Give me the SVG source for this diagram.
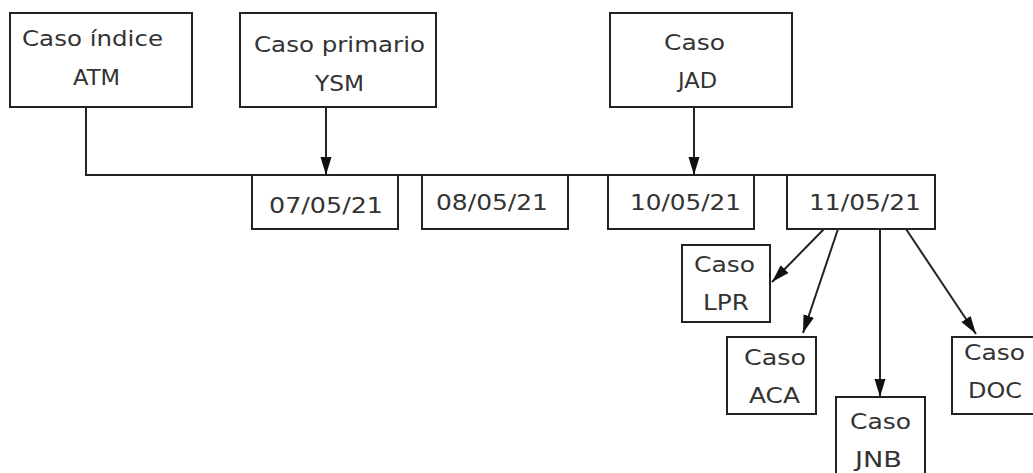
<svg xmlns="http://www.w3.org/2000/svg" width="1033" height="473" viewBox="0 0 1033 473">
<style>
.b{fill:#fff;stroke:#222;stroke-width:2}
.t{font-family:"DejaVu Sans",Verdana,sans-serif;font-size:21px;fill:#333}
.c{fill:none;stroke:#222;stroke-width:2}
</style>
<defs>
<marker id="a" viewBox="0 0 18 12" refX="18" refY="6" markerWidth="18" markerHeight="12" markerUnits="userSpaceOnUse" orient="auto">
<path d="M0,0.5 L18,6 L0,11.5 z" fill="#111"/>
</marker>
</defs>
<rect width="1033" height="473" fill="#fff"/>
<g id="connectors">
<path class="c" d="M86,107 V175 H935"/>
<line class="c" x1="326" y1="107" x2="326" y2="175" marker-end="url(#a)"/>
<line class="c" x1="694" y1="107" x2="694" y2="175" marker-end="url(#a)"/>
<line class="c" x1="824" y1="229" x2="772" y2="282" marker-end="url(#a)"/>
<line class="c" x1="838" y1="229" x2="803" y2="333" marker-end="url(#a)"/>
<line class="c" x1="880" y1="229" x2="880" y2="397" marker-end="url(#a)"/>
<line class="c" x1="906" y1="229" x2="976" y2="334" marker-end="url(#a)"/>
</g>
<g id="atm">
<rect class="b" x="10" y="13" width="182" height="94"/>
<text class="t" x="22" y="46" textLength="141" lengthAdjust="spacingAndGlyphs">Caso índice</text>
<text class="t" x="73" y="85" textLength="47" lengthAdjust="spacingAndGlyphs">ATM</text>
</g>
<g id="ysm">
<rect class="b" x="240" y="13" width="196" height="94"/>
<text class="t" x="254" y="52" textLength="171" lengthAdjust="spacingAndGlyphs">Caso primario</text>
<text class="t" x="315" y="91" textLength="49" lengthAdjust="spacingAndGlyphs">YSM</text>
</g>
<g id="jad">
<rect class="b" x="610" y="13" width="182" height="94"/>
<text class="t" x="664" y="50" textLength="61" lengthAdjust="spacingAndGlyphs">Caso</text>
<text class="t" x="678" y="88" textLength="39" lengthAdjust="spacingAndGlyphs">JAD</text>
</g>
<g id="d0705">
<rect class="b" x="252" y="175" width="146" height="54"/>
<text class="t" x="269" y="213" textLength="114" lengthAdjust="spacingAndGlyphs">07/05/21</text>
</g>
<g id="d0805">
<rect class="b" x="422" y="175" width="146" height="54"/>
<text class="t" x="436" y="210" textLength="112" lengthAdjust="spacingAndGlyphs">08/05/21</text>
</g>
<g id="d1005">
<rect class="b" x="608" y="175" width="146" height="54"/>
<text class="t" x="630" y="210" textLength="111" lengthAdjust="spacingAndGlyphs">10/05/21</text>
</g>
<g id="d1105">
<rect class="b" x="787" y="175" width="148" height="54"/>
<text class="t" x="809" y="210" textLength="112" lengthAdjust="spacingAndGlyphs">11/05/21</text>
</g>
<g id="lpr">
<rect class="b" x="682" y="245" width="88" height="77"/>
<text class="t" x="694" y="272" textLength="61" lengthAdjust="spacingAndGlyphs">Caso</text>
<text class="t" x="703" y="310" textLength="46" lengthAdjust="spacingAndGlyphs">LPR</text>
</g>
<g id="aca">
<rect class="b" x="727" y="337" width="89" height="77"/>
<text class="t" x="744" y="365" textLength="62" lengthAdjust="spacingAndGlyphs">Caso</text>
<text class="t" x="749" y="403" textLength="51" lengthAdjust="spacingAndGlyphs">ACA</text>
</g>
<g id="jnb">
<rect class="b" x="836" y="397" width="89" height="82"/>
<text class="t" x="850" y="429" textLength="61" lengthAdjust="spacingAndGlyphs">Caso</text>
<text class="t" x="855" y="467" textLength="47" lengthAdjust="spacingAndGlyphs">JNB</text>
</g>
<g id="doc">
<rect class="b" x="952" y="337" width="90" height="77"/>
<text class="t" x="964" y="360" textLength="61" lengthAdjust="spacingAndGlyphs">Caso</text>
<text class="t" x="968" y="398" textLength="54" lengthAdjust="spacingAndGlyphs">DOC</text>
</g>
</svg>
